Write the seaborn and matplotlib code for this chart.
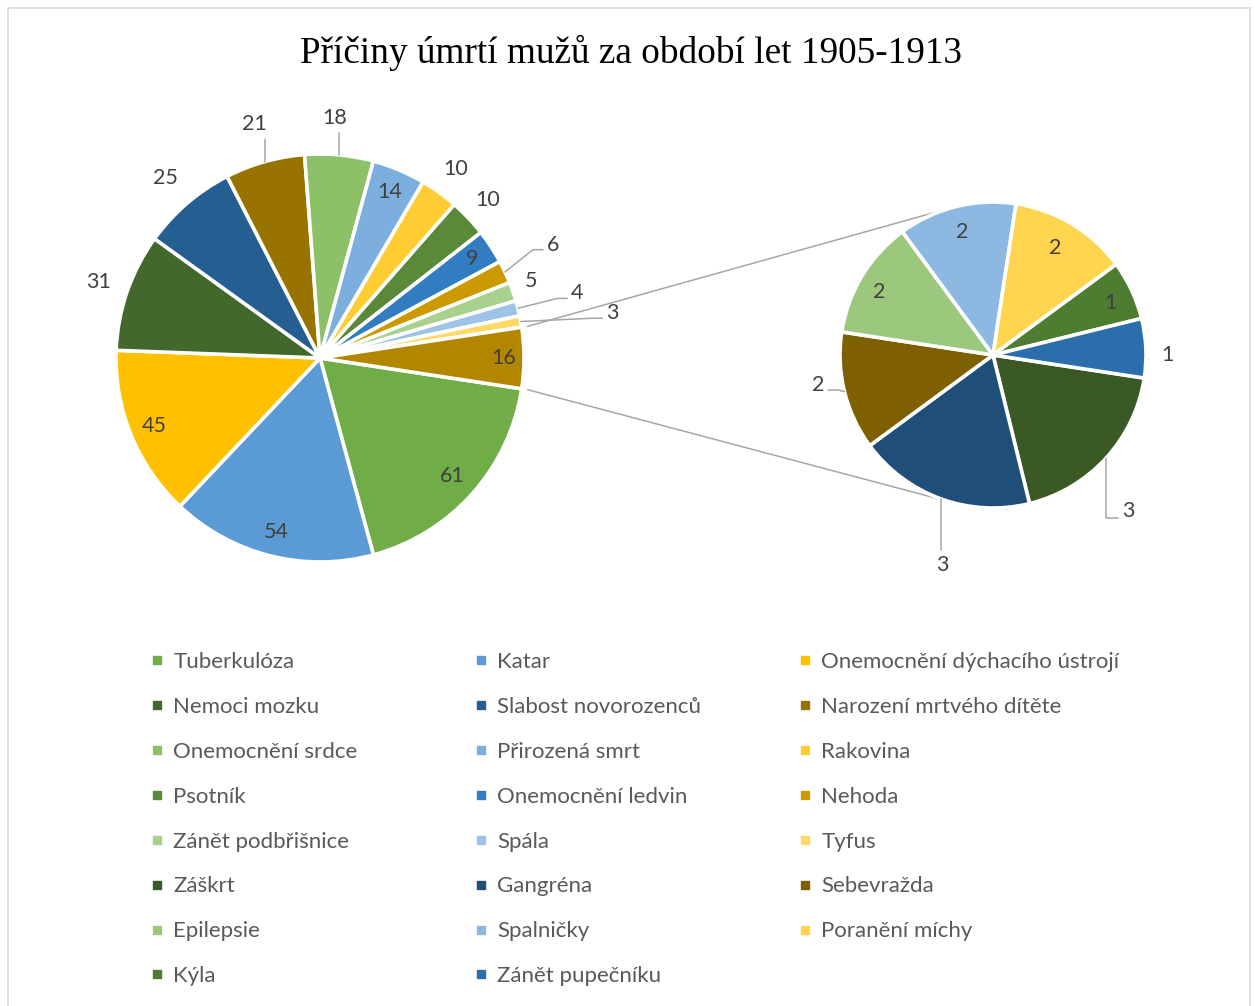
#!/usr/bin/env python
# coding: utf-8

#Purpose: pie-of-pie chart of male causes of death 1905-1913

import numpy as np
import pandas as pd
import seaborn as sns
import matplotlib.pyplot as plt
from matplotlib.lines import Line2D
from matplotlib.patches import Rectangle

#data (main pie)
main_causes = ["Tuberkulóza", "Katar", "Onemocnění dýchacího ústrojí", "Nemoci mozku",
               "Slabost novorozenců", "Narození mrtvého dítěte", "Onemocnění srdce",
               "Přirozená smrt", "Rakovina", "Psotník", "Onemocnění ledvin", "Nehoda",
               "Zánět podbřišnice", "Spála", "Tyfus"]
main_deaths = [61, 54, 45, 31, 25, 21, 18, 14, 10, 10, 9, 6, 5, 4, 3]

#data of the small causes (second pie)
other_causes = ["Záškrt", "Gangréna", "Sebevražda", "Epilepsie", "Spalničky",
                "Poranění míchy", "Kýla", "Zánět pupečníku"]
other_deaths = [3, 3, 2, 2, 2, 2, 1, 1]

#excel-like colours
main_colors = ["#70AD47", "#5B9BD5", "#FFC000", "#43682B", "#255E91", "#997300",
               "#8CC168", "#7CAFDD", "#FFCD33", "#5A8A39", "#327DC2", "#CC9A00",
               "#A9D18E", "#9DC3E6", "#FFD966"]
other_colors = ["#3A5925", "#1F4E79", "#7F6000", "#9BC87D", "#8CB8E2", "#FFD54F",
                "#4E7D31", "#2C6DAB"]
rest_color = "#B38600"

#label placement per slice: (radius factor, angle shift, leader type)
main_lab = [(0.87, 0, None), (0.88, 0, None), (0.88, 0, None), (1.15, 0, None),
            (1.16, 0, None), (1.19, 0, "v"), (1.18, 2, "v"), (0.88, 0, None),
            (1.14, 0, None), (1.13, 0, None), (0.89, 0, None), (1.27, 1, "h"),
            (1.10, 1, None), (1.30, 0, "h"), (1.45, -1.6, "h"), (0.90, 0, None)]
other_lab = [(1.35, -6.7, "vh"), (1.41, 6.3, "v"), (1.16, -4.1, "h"), (0.85, 2, None),
             (0.83, 0, None), (0.81, 1, None), (0.84, -1, None), (1.14, -2.6, None)]

df_main = pd.DataFrame({"cause": main_causes, "deaths": main_deaths, "color": main_colors})
df_other = pd.DataFrame({"cause": other_causes, "deaths": other_deaths, "color": other_colors})

sns.set_theme(style="white")
plt.rcParams["font.family"] = ["Lato", "DejaVu Sans"]

H = 1006
fig = plt.figure(figsize=(12.55, 10.06), dpi=100)
ax = fig.add_axes([0, 0, 1, 1])

main_c = np.array([320.0, H - 358.0])
main_r = 204
sec_c = np.array([993.0, H - 355.0])
sec_r = 153

vals = list(df_main.deaths) + [df_other.deaths.sum()]
start = -df_other.deaths.sum() / sum(vals) * 180
wp = dict(edgecolor="white", linewidth=2.6)

w_main, _ = ax.pie(vals, colors=list(df_main.color) + [rest_color], center=main_c,
                   radius=main_r, startangle=start, counterclock=False,
                   wedgeprops=wp, frame=True)
w_sec, _ = ax.pie(df_other.deaths, colors=df_other.color, center=sec_c,
                  radius=sec_r, startangle=start, counterclock=False,
                  wedgeprops=wp, frame=True)

lab_col = "#404040"
lead_col = "#A6A6A6"


def put_labels(wedges, values, c, r, specs):
    for w, v, (rf, da, kind) in zip(wedges, values, specs):
        mid = np.deg2rad((w.theta1 + w.theta2) / 2)
        a = mid + np.deg2rad(da)
        L = c + rf * r * np.array([np.cos(a), np.sin(a)])
        ax.text(L[0], L[1], str(v), ha="center", va="center", fontsize=15.5, color=lab_col)
        if kind is None:
            continue
        p0 = c + r * np.array([np.cos(mid), np.sin(mid)])
        side = 1 if L[0] > c[0] else -1
        if kind == "v":
            sgn = 1 if L[1] < p0[1] else -1
            xs = [p0[0], p0[0]]
            ys = [p0[1], L[1] + sgn * 15]
        elif kind == "h":
            yy = L[1] - 5
            xs = [p0[0], L[0] - side * 20, L[0] - side * 10]
            ys = [p0[1], yy, yy]
        else:
            yy = L[1] - 7
            xs = [p0[0], p0[0], L[0] - side * 10]
            ys = [p0[1], yy, yy]
        ax.plot(xs, ys, color=lead_col, lw=1.1, zorder=3)


put_labels(w_main, vals, main_c, main_r, main_lab)
put_labels(w_sec, list(df_other.deaths), sec_c, sec_r, other_lab)

#connector lines: from edges of the rest slice, tangent to the second pie
for side in [1, -1]:
    a = np.deg2rad(side * -start)
    p = main_c + main_r * 1.03 * np.array([np.cos(a), np.sin(a)])
    d = sec_c - p
    dist = np.hypot(*d)
    ang = np.arctan2(d[1], d[0]) + side * np.arcsin(sec_r / dist)
    q = p + np.sqrt(dist ** 2 - sec_r ** 2) * np.array([np.cos(ang), np.sin(ang)])
    ax.plot([p[0], q[0]], [p[1], q[1]], color=lead_col, lw=1.1, zorder=0)

#title
ax.text(631, H - 53, "Příčiny úmrtí mužů za období let 1905-1913", ha="center",
        va="center", fontsize=26.8, family="Liberation Serif", color="black")

#legend: 3 columns, filled row by row like excel
names = list(df_main.cause) + list(df_other.cause)
cols = list(df_main.color) + list(df_other.color)
handles = [Line2D([], [], marker="s", linestyle="", color=cc, markersize=6) for cc in cols]
col_x = [157, 481, 805]
for k in range(3):
    leg = ax.legend(handles[k::3], names[k::3], loc="upper left",
                    bbox_to_anchor=(col_x[k] - 7, H - 652), bbox_transform=ax.transData,
                    frameon=False, fontsize=16, handlelength=0.65, handletextpad=0.4,
                    labelspacing=1.12, borderpad=0, borderaxespad=0, labelcolor="#595959")
    if k < 2:
        ax.add_artist(leg)

#outer border
ax.add_patch(Rectangle((7.5, -20), 1242, H - 7.5 + 20, fill=False, edgecolor="#D9D9D9", lw=1.2))

ax.set_xlim(0, 1255)
ax.set_ylim(0, H)
ax.set_aspect("equal")
ax.axis("off")

fig.savefig("out.png", dpi=100)
